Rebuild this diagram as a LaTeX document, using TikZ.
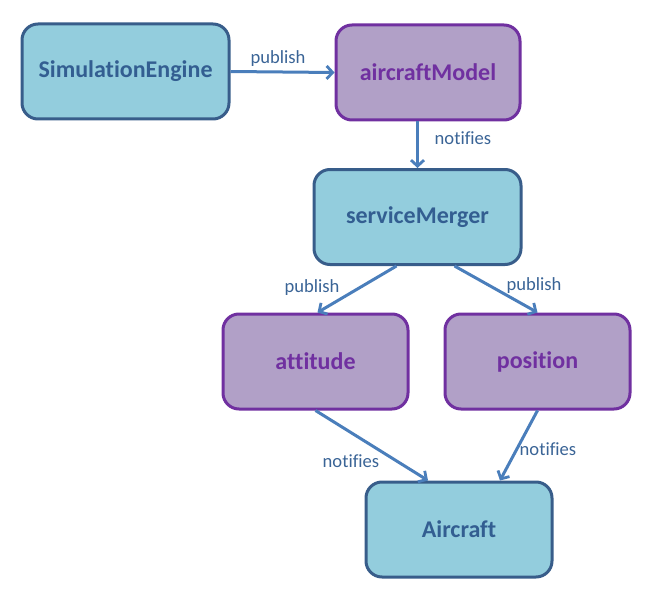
\documentclass[tikz,border=0pt]{standalone}
\usepackage{fontspec}
\setmainfont{Carlito}[Ligatures=NoCommon]
\usetikzlibrary{arrows.meta,calc}
\definecolor{bfill}{HTML}{93CDDD}
\definecolor{bline}{HTML}{385D8A}
\definecolor{btext}{HTML}{335E91}
\definecolor{pfill}{HTML}{B1A0C7}
\definecolor{pline}{HTML}{7030A0}
\definecolor{ptext}{HTML}{7030A0}
\definecolor{arr}{HTML}{4A7EBB}
\definecolor{ltext}{HTML}{3A6496}
\begin{document}
\begin{tikzpicture}[x=1pt,y=-1pt,
  bluebox/.style={draw=bline,fill=bfill,line width=3pt,rounded corners=16pt,text=btext,font=\fontsize{24}{28}\selectfont\bfseries,minimum height=95pt,inner sep=0pt},
  purplebox/.style={draw=pline,fill=pfill,line width=3pt,rounded corners=16pt,text=ptext,font=\fontsize{24}{28}\selectfont\bfseries,minimum height=95pt,inner sep=0pt},
  conn/.style={draw=arr,line width=3pt,-{Straight Barb[length=6pt,width=13pt,line width=2.8pt]}},
  lbl/.style={text=ltext,font=\fontsize{18.6}{22}\selectfont,inner sep=0pt}]
\useasboundingbox (0,0) rectangle (654,610);
\node[bluebox,minimum width=207pt] (se) at (125.5,71.5) {SimulationEngine};
\node[purplebox,minimum width=184pt] (am) at (428,72.5) {aircraftModel};
\node[bluebox,minimum width=207pt] (sm) at (417.5,217) {serviceMerger};
\node[purplebox,minimum width=185pt] (att) at (315.5,361.5) {attitude};
\node[purplebox,minimum width=185pt] (pos) at (537.5,361.5) {position};
\node[bluebox,minimum width=186pt] (ac) at (459,529.5) {Aircraft};
\draw[conn] (se.east) -- (am.west);
\draw[conn] (sm.north |- am.south) -- (sm.north);
\draw[conn] ($(sm.south)+(-21,0)$) -- ($(att.north)+(2,0)$);
\draw[conn] ($(sm.south)+(37,0)$) -- ($(pos.north)+(0,0)$);
\draw[conn] (att.south) -- ($(ac.north)+(-31,0)$);
\draw[conn] (pos.south) -- ($(ac.north)+(41,0)$);
\node[lbl] (l1) at (278,59) {publish};
\node[lbl] (l2) at (463,138) {notifies};
\node[lbl] (l3) at (312,288) {publish};
\node[lbl] (l4) at (534,286) {publish};
\node[lbl] (l5) at (351,461) {notifies};
\node[lbl] (l6) at (548,449) {notifies};
\end{tikzpicture}
\end{document}
